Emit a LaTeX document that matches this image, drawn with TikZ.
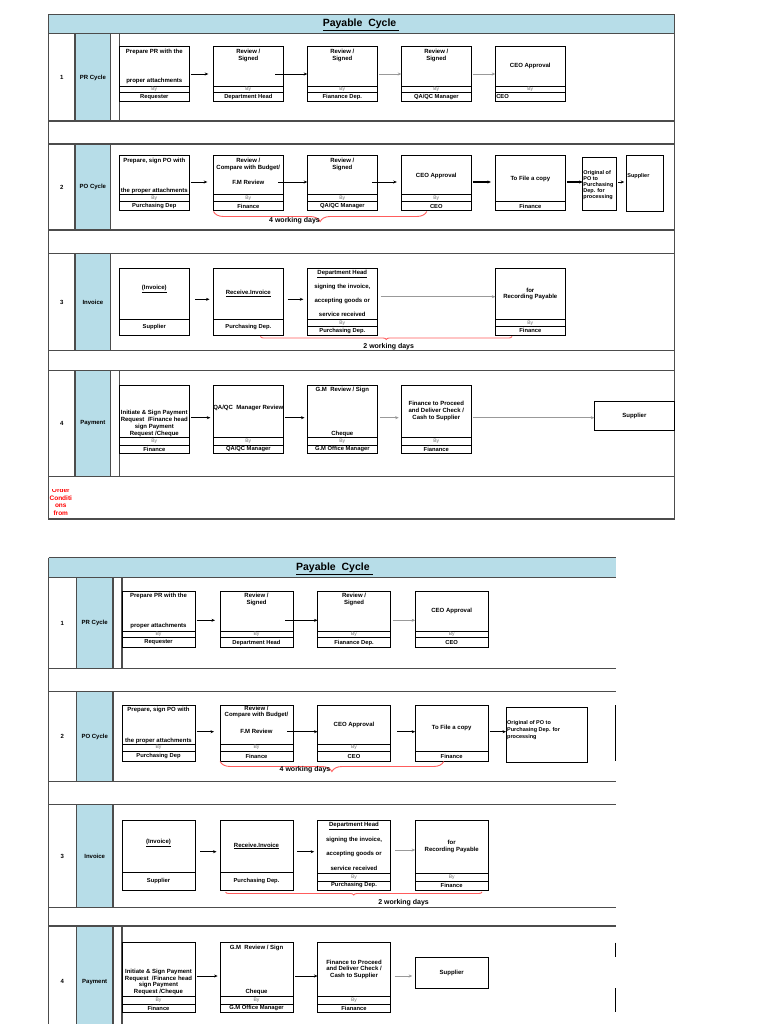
\documentclass[tikz,border=0pt]{standalone}
\usepackage{fontspec}
\setmainfont{Liberation Sans}
\usetikzlibrary{arrows.meta,positioning,decorations.pathreplacing}
\definecolor{lanebg}{HTML}{B7DDE8}
\definecolor{redline}{HTML}{FF5C5C}

\begin{document}
\begin{tikzpicture}[x=1pt,y=-1pt,
  grid/.style={draw=black!70, line width=1.3pt},
  box/.style={draw, line width=1pt, inner sep=0pt, outer sep=0pt, minimum width=#1},
  box/.default=70,
  bytag/.style={box, font=\fontsize{5}{5}\selectfont, text=black!55},
  who/.style={box, font=\fontsize{5.8}{6}\selectfont\bfseries},
  txt/.style={font=\fontsize{6}{7}\selectfont\bfseries, inner sep=0pt, align=center},
  lab/.style={font=\fontsize{6}{7}\selectfont\bfseries, inner sep=0pt},
  days/.style={font=\fontsize{7}{8}\selectfont\bfseries, inner sep=0pt},
  flow/.style={-{Stealth[length=3.5pt,width=3pt]}, line width=0.8pt, shorten <=1.5pt},
  faint/.style={flow, draw=black!40},
  redbrace/.style={draw=redline, line width=0.9pt, decorate, decoration={brace, mirror, amplitude=#1}}]
\path[fill=white,use as bounding box] (0,0) rectangle (768,1024);

% ---------- sheet 1
\fill[lanebg] (48.5,14.3) rectangle (674.5,33.3);
\foreach \a/\b in {33.3/121, 144/230, 253.3/350.7, 370.7/476.3} {
  \fill[lanebg] (75,\a) rectangle (110.7,\b);
  \draw[grid] (75,\a) -- (75,\b) (110.7,\a) -- (110.7,\b);
}
\foreach \a/\b in {33.3/121, 370.7/476.3} {\draw[grid] (119.3,\a) -- (119.3,\b);}
\foreach \y in {33.3,121,144,230,253.3,350.7,370.7,476.3} {\draw[grid] (48.5,\y) -- (674.5,\y);}
\draw[grid] (48.5,14.3) rectangle (674.5,519);
\node[font=\fontsize{10.5}{12}\selectfont\bfseries, inner sep=0pt] (title1) at (361,24.5) {\underline{Payable\ \ Cycle\ }};
\foreach \y/\i/\l in {77.5/1/PR Cycle, 187/2/PO Cycle, 302/3/Invoice, 423/4/Payment} {
  \node[lab] (p1n\i) at (61.8,\y) {\i};
  \node[lab] (p1l\i) at (92.9,\y) {\l};
}
\begin{scope}
  \clip (48.5,489.3) rectangle (75,518);
  \node[lab, text=red, font=\fontsize{6.5}{7.5}\selectfont\bfseries, align=center] (note) at (60.8,501.8) {Order\\Conditi\\ons\\from};
\end{scope}

% row 1
\foreach \n/\x/\w in {a1/119.3/Requester, a2/213.3/Department Head, a3/307.3/Fianance Dep., a4/401.3/{QA/QC Manager}} {
  \node[box, minimum height=39.6, anchor=north west] (\n) at (\x,46.7) {};
  \node[bytag, minimum height=6, below=0pt of \n] (\n-by) {By};
  \node[who, minimum height=9.4, below=0pt of \n-by] (\n-who) {\w};
}
\node[box, minimum height=39.6, anchor=north west] (a5) at (495.3,46.7) {};
\node[bytag, minimum height=6, below=0pt of a5] (a5-by) {By};
\node[who, minimum height=9.4, below=0pt of a5-by, text width=68, align=left] (a5-who) {CEO};
\node[txt] (a1-t1) at (154.3,51.5) {Prepare PR with the};
\node[txt] (a1-t2) at (154.3,80.7) {proper attachments};
\foreach \n in {a2,a3,a4} {\node[txt, below=2pt of \n.north] (\n-t) {Review /\\Signed};}
\node[txt] (a5-t) at (530.3,65.7) {CEO Approval};
\coordinate (r1) at (0,74);
\draw[flow, shorten >=5pt] (a1.east |- r1) -- (a2.west |- r1);
\draw[flow, shorten <=-8pt] (a2.east |- r1) -- (a3.west |- r1);
\draw[faint] (a3.east |- r1) -- (a4.west |- r1);
\draw[faint] (a4.east |- r1) -- (a5.west |- r1);

% row 2
\foreach \n/\x/\w in {b1/119.3/Purchasing Dep, b2/213.3/Finance, b3/307.3/{QA/QC Manager}, b4/401.3/CEO} {
  \node[box, minimum height=39.3, anchor=north west] (\n) at (\x,155.7) {};
  \node[bytag, minimum height=6.7, below=0pt of \n] (\n-by) {By};
  \node[who, minimum height=9, below=0pt of \n-by] (\n-who) {\w};
}
\node[box, minimum height=46, anchor=north west] (b5) at (495.3,155.7) {};
\node[who, minimum height=9, below=0pt of b5] (b5-who) {Finance};
\node[box=34, minimum height=53.4, anchor=north west] (b6) at (582.7,157.3) {};
\node[box=36.6, minimum height=56, anchor=north west] (b7) at (626.7,155.7) {};
\node[txt] (b1-t1) at (154.3,160.5) {Prepare, sign PO with};
\node[txt] (b1-t2) at (154.3,191) {the proper attachments};
\node[txt] (b2-t1) at (248.3,164) {Review /\\Compare with Budget/};
\node[txt] (b2-t2) at (248.3,182) {F.M Review};
\node[txt] (b3-t) at (342.3,164) {Review /\\Signed};
\node[txt] (b4-t) at (436.3,175.7) {CEO Approval};
\node[txt] (b5-t) at (530.3,179) {To File a copy};
\node[txt, font=\fontsize{5.5}{6}\selectfont\bfseries, align=left, anchor=west] (b6-t) at (583.2,185.3) {Original of\\PO to\\Purchasing\\Dep. for\\processing};
\node[txt, font=\fontsize{5.5}{6}\selectfont\bfseries, anchor=west] (b7-t) at (627.2,176) {Supplier};
\coordinate (r2) at (0,182);
\draw[flow, line width=0.6pt, shorten >=6pt] (b1.east |- r2) -- (b2.west |- r2);
\draw[flow, line width=0.6pt, shorten <=-5pt] (b2.east |- r2) -- (b3.west |- r2);
\draw[flow, line width=0.6pt, shorten <=-5.5pt, shorten >=4.5pt] (b3.east |- r2) -- (b4.west |- r2);
\draw[flow, line width=1.2pt, shorten >=4.4pt] (b4.east |- r2) -- (b5.west |- r2);
\draw[flow, line width=1.2pt] (b5.east |- r2) -- (b6.west |- r2);
\draw[flow, line width=0.6pt, shorten >=2.5pt] (b6.east |- r2) -- (b7.west |- r2);
\coordinate (br1a) at (213.5,211.5);
\coordinate (br1b) at (426.8,211.5);
\draw[redbrace=10pt] (br1a) -- (br1b);
\node[days] (days1) at (294.5,220.7) {4 working days};

% row 3
\foreach \n/\x/\w in {c1/119.3/Supplier, c2/213.3/Purchasing Dep.} {
  \node[box, minimum height=50.7, anchor=north west] (\n) at (\x,268.3) {};
  \node[who, minimum height=16, below=0pt of \n] (\n-who) {\w};
}
\foreach \n/\x/\w in {c3/307.3/Purchasing Dep., c4/495.3/Finance} {
  \node[box, minimum height=50.7, anchor=north west] (\n) at (\x,268.3) {};
  \node[bytag, minimum height=7.7, below=0pt of \n] (\n-by) {By};
  \node[who, minimum height=8.3, below=0pt of \n-by] (\n-who) {\w};
}
\node[txt] (c1-t) at (154.3,289) {\underline{(Invoice)}};
\node[txt] (c2-t) at (248.3,293.3) {\underline{Receive.Invoice}};
\node[txt] (c3-t1) at (342.3,273.6) {\underline{Department Head}};
\node[txt, font=\fontsize{6}{14}\selectfont\bfseries] (c3-t2) at (342.3,300.7) {signing the invoice,\\accepting goods or\\service received};
\node[txt, font=\fontsize{6}{6.5}\selectfont\bfseries] (c4-t) at (530.3,294) {for\\Recording Payable};
\coordinate (r3) at (0,299.3);
\coordinate (r3b) at (0,296.7);
\draw[flow, shorten <=5.8pt, shorten >=3.8pt] (c1.east |- r3) -- (c2.west |- r3);
\draw[flow, shorten <=4.4pt, shorten >=4pt] (c2.east |- r3) -- (c3.west |- r3);
\draw[faint, shorten <=3.4pt] (c3.east |- r3b) -- (c4.west |- r3b);
\coordinate (ln1a) at (260.4,336.5);
\coordinate (ln1b) at (512.1,336.5);
\draw[redbrace=3pt] (ln1a) -- (ln1b);
\node[days] (days2) at (388.7,346.7) {2 working days};

% row 4
\foreach \n/\x/\w in {d1/119.3/Finance, d2/213.3/{QA/QC Manager}, d3/307.3/G.M Office Manager, d4/401.3/Fianance} {
  \node[box, minimum height=51.6, anchor=north west] (\n) at (\x,385.7) {};
  \node[bytag, minimum height=7.7, below=0pt of \n] (\n-by) {By};
  \node[who, minimum height=8.3, below=0pt of \n-by] (\n-who) {\w};
}
\node[box=80.2, minimum height=29, anchor=north west, txt] (d5) at (594.3,401) {Supplier};
\node[txt, font=\fontsize{6}{6.8}\selectfont\bfseries] (d1-t) at (154.3,423.5) {Initiate \& Sign Payment\\Request\ \ /Finance head\\sign Payment\\Request /Cheque};
\node[txt] (d2-t) at (248.3,407.7) {QA/QC\ \ Manager Review};
\node[txt] (d3-t1) at (342.3,390) {G.M\ \ Review / Sign};
\node[txt] (d3-t2) at (342.3,434) {Cheque};
\node[txt, font=\fontsize{6}{6.7}\selectfont\bfseries] (d4-t) at (436.3,411) {Finance to Proceed\\and Deliver Check /\\Cash to Supplier};
\coordinate (r4) at (0,417.7);
\draw[flow, shorten >=3pt] (d1.east |- r4) -- (d2.west |- r4);
\draw[flow, shorten <=1.2pt, shorten >=2.8pt] (d2.east |- r4) -- (d3.west |- r4);
\draw[faint, shorten <=2.6pt, shorten >=2.6pt] (d3.east |- r4) -- (d4.west |- r4);
\draw[faint] (d4.east |- r4) -- (d5.west |- r4);

% ---------- sheet 2
\begin{scope}[box/.default=73]
\fill[lanebg] (48.5,557.7) rectangle (616,577.7);
\foreach \a/\b in {577.7/668.3, 691.7/781.7, 804.3/907.3, 926/1024} {
  \fill[lanebg] (76.4,\a) rectangle (113,\b);
  \draw[grid] (76.4,\a) -- (76.4,\b) (113,\a) -- (113,\b);
}
\foreach \a/\b in {577.7/668.3, 926/1024} {\draw[grid] (122,\a) -- (122,\b);}
\foreach \y in {557.7,577.7,668.3,691.7,781.7,804.3,907.3,926} {\draw[grid] (48.5,\y) -- (616,\y);}
\draw[grid] (48.5,557.7) -- (48.5,1024);
\node[font=\fontsize{10.5}{12}\selectfont\bfseries, inner sep=0pt] (title2) at (334.3,568.8) {\underline{Payable\ \ Cycle\ }};
\foreach \y/\i/\l in {623/1/PR Cycle, 736.7/2/PO Cycle, 856/3/Invoice, 981.7/4/Payment} {
  \node[lab] (p2n\i) at (62.4,\y) {\i};
  \node[lab] (p2l\i) at (94.7,\y) {\l};
}

% row 1
\foreach \n/\x/\w in {e1/122/Requester, e2/220/Department Head, e3/317.5/Fianance Dep., e4/415.2/CEO} {
  \node[box, minimum height=40.3, anchor=north west] (\n) at (\x,591) {};
  \node[bytag, minimum height=6.4, below=0pt of \n] (\n-by) {By};
  \node[who, minimum height=9.6, below=0pt of \n-by] (\n-who) {\w};
}
\node[txt] (e1-t1) at (158.5,595.8) {Prepare PR with the};
\node[txt] (e1-t2) at (158.5,626.3) {proper attachments};
\foreach \n in {e2,e3} {\node[txt, below=1.8pt of \n.north] (\n-t) {Review /\\Signed};}
\node[txt] (e4-t) at (451.7,611) {CEO Approval};
\coordinate (s1) at (0,620.3);
\draw[flow, shorten >=5pt] (e1.east |- s1) -- (e2.west |- s1);
\draw[flow, shorten <=-8pt] (e2.east |- s1) -- (e3.west |- s1);
\draw[faint, shorten <=2pt] (e3.east |- s1) -- (e4.west |- s1);

% row 2
\foreach \n/\x/\w in {f1/122/Purchasing Dep, f2/220/Finance, f3/317.5/CEO} {
  \node[box, minimum height=39.3, anchor=north west] (\n) at (\x,705) {};
  \node[bytag, minimum height=6.7, below=0pt of \n] (\n-by) {By};
  \node[who, minimum height=10.7, below=0pt of \n-by] (\n-who) {\w};
}
\node[box, minimum height=46.7, anchor=north west] (f4) at (415.2,705) {};
\node[who, minimum height=10, below=0pt of f4] (f4-who) {Finance};
\node[box=81.7, minimum height=55.4, anchor=north west] (f5) at (506,707.3) {};
\node[txt] (f1-t1) at (158.5,709.8) {Prepare, sign PO with};
\node[txt] (f1-t2) at (158.5,741) {the proper attachments};
\node[txt, font=\fontsize{6}{6}\selectfont\bfseries] (f2-t1) at (256.5,712) {Review /\\Compare with Budget/};
\node[txt] (f2-t2) at (256.5,731) {F.M Review};
\node[txt] (f3-t) at (354,725) {CEO Approval};
\node[txt] (f4-t) at (451.7,728) {To File a copy};
\node[txt, font=\fontsize{5.5}{7}\selectfont\bfseries, align=left, anchor=west] (f5-t) at (507,729.7) {Original of PO to\\Purchasing Dep. for\\processing};
\draw[line width=1pt] (615.5,705) -- (615.5,760.7);
\coordinate (s2) at (0,731.7);
\draw[flow, line width=0.6pt, shorten >=6pt] (f1.east |- s2) -- (f2.west |- s2);
\draw[flow, line width=0.6pt, shorten <=-6pt] (f2.east |- s2) -- (f3.west |- s2);
\draw[flow, line width=1.2pt, shorten <=6.5pt] (f3.east |- s2) -- (f4.west |- s2);
\draw[flow, line width=1.2pt] (f4.east |- s2) -- (f5.west |- s2);
\coordinate (br2a) at (220.1,761.5);
\coordinate (br2b) at (443.7,761.5);
\draw[redbrace=10pt] (br2a) -- (br2b);
\node[days] (days3) at (305,770) {4 working days};

% row 3
\foreach \n/\x/\w in {g1/122/Supplier, g2/220/Purchasing Dep.} {
  \node[box, minimum height=52, anchor=north west] (\n) at (\x,820.7) {};
  \node[who, minimum height=17.3, below=0pt of \n] (\n-who) {\w};
}
\foreach \n/\x/\w in {g3/317.5/Purchasing Dep., g4/415.2/Finance} {
  \node[box, minimum height=52.6, anchor=north west] (\n) at (\x,820.7) {};
  \node[bytag, minimum height=7.7, below=0pt of \n] (\n-by) {By};
  \node[who, minimum height=9, below=0pt of \n-by] (\n-who) {\w};
}
\node[txt] (g1-t) at (158.5,842.7) {\underline{(Invoice)}};
\node[txt] (g2-t) at (256.5,846) {\underline{Receive.Invoice}};
\node[txt] (g3-t1) at (354,825.6) {\underline{Department Head}};
\node[txt, font=\fontsize{6}{14.5}\selectfont\bfseries] (g3-t2) at (354,853.8) {signing the invoice,\\accepting goods or\\service received};
\node[txt, font=\fontsize{6}{7.3}\selectfont\bfseries] (g4-t) at (451.7,846.3) {for\\Recording Payable};
\coordinate (s3) at (0,851.7);
\coordinate (s3b) at (0,850);
\draw[flow, shorten <=5.4pt, shorten >=3.5pt] (g1.east |- s3) -- (g2.west |- s3);
\draw[flow, shorten <=4pt, shorten >=3.3pt] (g2.east |- s3) -- (g3.west |- s3);
\draw[faint, shorten <=4.7pt] (g3.east |- s3b) -- (g4.west |- s3b);
\coordinate (ln2a) at (225.6,892);
\coordinate (ln2b) at (482,892);
\draw[redbrace=3pt] (ln2a) -- (ln2b);
\node[days] (days4) at (403.6,902.3) {2 working days};

% row 4
\foreach \n/\x/\w in {h1/122/Finance, h2/220/G.M Office Manager, h3/317.5/Fianance} {
  \node[box, minimum height=54, anchor=north west] (\n) at (\x,942.7) {};
  \node[bytag, minimum height=7.3, below=0pt of \n] (\n-by) {By};
  \node[who, minimum height=8.7, below=0pt of \n-by] (\n-who) {\w};
}
\node[box, minimum height=30.6, anchor=north west, txt] (h4) at (415.2,957.7) {Supplier};
\node[txt, font=\fontsize{6}{6.6}\selectfont\bfseries] (h1-t) at (158.5,981.8) {Initiate \& Sign Payment\\Request\ \ /Finance head\\sign Payment\\Request /Cheque};
\node[txt] (h2-t1) at (256.5,947.5) {G.M\ \ Review / Sign};
\node[txt] (h2-t2) at (256.5,991.7) {Cheque};
\node[txt, font=\fontsize{6}{6.6}\selectfont\bfseries] (h3-t) at (354,969.3) {Finance to Proceed\\and Deliver Check /\\Cash to Supplier};
\draw[line width=1pt] (615.5,942.7) -- (615.5,957.3) (615.5,988.3) -- (615.5,1012);
\coordinate (s4) at (0,976);
\draw[flow, shorten <=1.8pt, shorten >=2.4pt] (h1.east |- s4) -- (h2.west |- s4);
\draw[flow, shorten <=2.3pt] (h2.east |- s4) -- (h3.west |- s4);
\draw[faint, shorten <=4pt, shorten >=3pt] (h3.east |- s4) -- (h4.west |- s4);
\end{scope}
\end{tikzpicture}
\end{document}
